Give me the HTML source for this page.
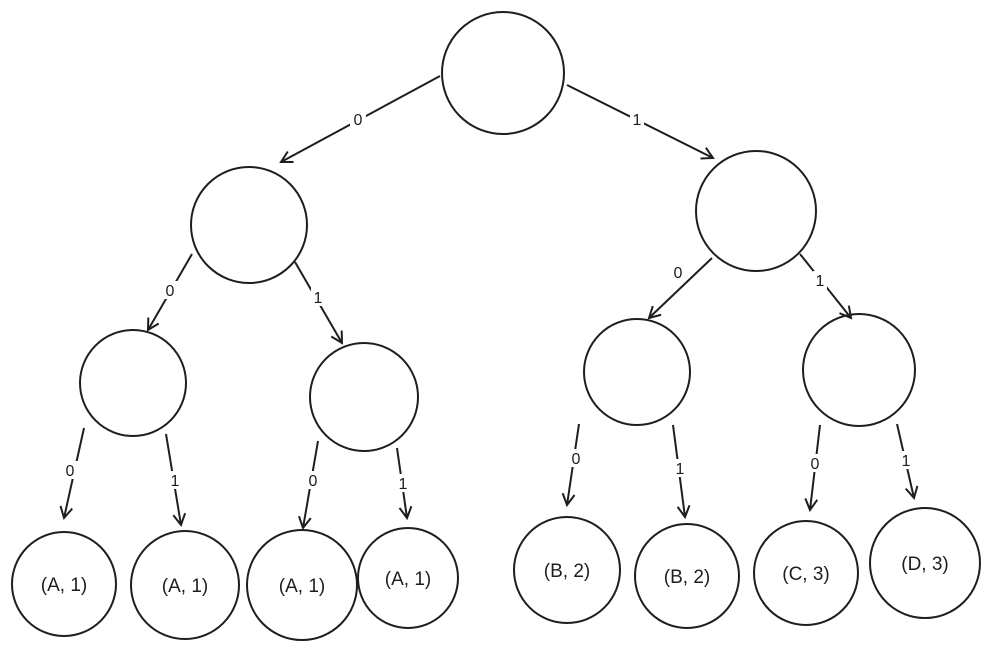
<!DOCTYPE html>
<html><head><meta charset="utf-8"><style>
html,body{margin:0;padding:0;background:#fff;}
svg{display:block;}
text{font-family:"Liberation Sans",sans-serif;fill:#1e1e1e;}
</style></head><body>
<svg width="990" height="659" viewBox="0 0 990 659" xmlns="http://www.w3.org/2000/svg">
<defs>
<marker id="a" markerWidth="14" markerHeight="14" refX="12" refY="7" orient="auto" markerUnits="userSpaceOnUse">
<path d="M1,1 L12,7 L1,13" fill="none" stroke="#1e1e1e" stroke-width="2"/>
</marker>
</defs>
<g fill="none" stroke="#1e1e1e" stroke-width="2">
<circle cx="503" cy="73" r="61"/>
<circle cx="249" cy="225" r="58"/>
<circle cx="756" cy="211" r="60"/>
<circle cx="133" cy="383" r="53"/>
<circle cx="364" cy="397" r="54"/>
<circle cx="637" cy="372" r="53"/>
<circle cx="859" cy="370" r="56"/>
<circle cx="64" cy="584" r="52"/>
<circle cx="185" cy="585" r="54"/>
<circle cx="302" cy="585" r="55"/>
<circle cx="408" cy="578" r="50"/>
<circle cx="567" cy="570" r="53"/>
<circle cx="687" cy="576" r="52"/>
<circle cx="806" cy="573" r="52"/>
<circle cx="925" cy="563" r="55"/>
</g>
<g stroke="#1e1e1e" stroke-width="2" fill="none" marker-end="url(#a)">
<line x1="440" y1="76" x2="281" y2="162"/>
<line x1="567" y1="85" x2="713" y2="158"/>
<line x1="192" y1="254" x2="148" y2="330"/>
<line x1="295" y1="262" x2="342" y2="343"/>
<line x1="84" y1="428" x2="64" y2="518"/>
<line x1="166" y1="434" x2="181" y2="525"/>
<line x1="318" y1="441" x2="303" y2="528"/>
<line x1="397" y1="448" x2="407" y2="518"/>
<line x1="579" y1="424" x2="567" y2="505"/>
<line x1="673" y1="425" x2="685" y2="517"/>
<line x1="820" y1="425" x2="810" y2="510"/>
<line x1="897" y1="424" x2="914" y2="498"/>
<line x1="712" y1="258" x2="649" y2="318"/>
<line x1="800" y1="254" x2="851" y2="318"/>
</g>
<g font-size="16" text-anchor="middle">
<g fill="#fff" stroke="none">
<rect x="350" y="110" width="16" height="18"/><rect x="630" y="110" width="14" height="18"/>
<rect x="162" y="281" width="16" height="18"/><rect x="311" y="288" width="14" height="18"/>
<rect x="62" y="461" width="16" height="18"/><rect x="168" y="471" width="14" height="18"/>
<rect x="305" y="471" width="16" height="18"/><rect x="396" y="474" width="14" height="18"/>
<rect x="568" y="449" width="16" height="18"/><rect x="673" y="459" width="14" height="18"/>
<rect x="807" y="454" width="16" height="18"/><rect x="899" y="451" width="14" height="18"/>
<rect x="670" y="263" width="16" height="18"/><rect x="813" y="271" width="14" height="18"/>
</g>
<text x="358" y="125">0</text><text x="637" y="125">1</text>
<text x="170" y="296">0</text><text x="318" y="303">1</text>
<text x="70" y="476">0</text><text x="175" y="486">1</text>
<text x="313" y="486">0</text><text x="403" y="489">1</text>
<text x="576" y="464">0</text><text x="680" y="474">1</text>
<text x="815" y="469">0</text><text x="906" y="466">1</text>
<text x="678" y="278">0</text><text x="820" y="286">1</text>
</g>
<g font-size="19" text-anchor="middle">
<text x="64" y="591">(A, 1)</text>
<text x="185" y="592">(A, 1)</text>
<text x="302" y="592">(A, 1)</text>
<text x="408" y="585">(A, 1)</text>
<text x="567" y="577">(B, 2)</text>
<text x="687" y="583">(B, 2)</text>
<text x="806" y="580">(C, 3)</text>
<text x="925" y="570">(D, 3)</text>
</g>
</svg>
</body></html>
